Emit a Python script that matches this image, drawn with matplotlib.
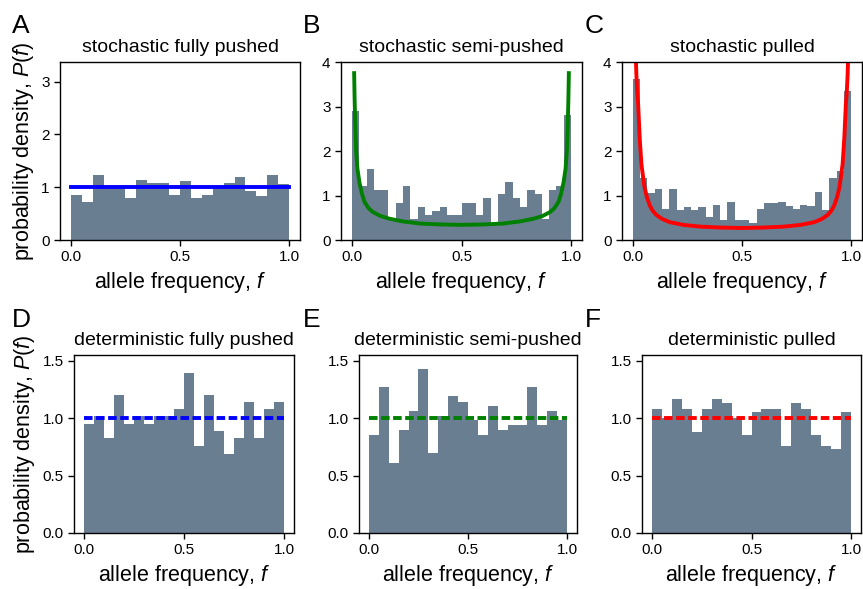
"""
Distribuzioni delle frequenze alleliche: istogrammi e curve teoriche
per fronti stocastici e deterministici (pushed, semi-pushed, pulled).
"""

import numpy as np
import matplotlib
matplotlib.use('Agg')
import matplotlib.pyplot as plt

plt.rcParams['font.family'] = ['Liberation Sans', 'DejaVu Sans']
plt.rcParams['mathtext.fontset'] = 'custom'
plt.rcParams['mathtext.rm'] = 'Liberation Sans'
plt.rcParams['mathtext.it'] = 'Liberation Sans:italic'

# ==================== DATI ====================

titles = [
    'stochastic fully pushed', 'stochastic semi-pushed', 'stochastic pulled',
    'deterministic fully pushed', 'deterministic semi-pushed', 'deterministic pulled',
]
letters = ['A', 'B', 'C', 'D', 'E', 'F']

# altezze degli istogrammi (densita' di probabilita')
hist_a = [0.85, 0.72, 1.23, 0.98, 0.98, 0.80, 1.14, 1.08, 1.08, 0.85,
          1.12, 0.80, 0.85, 0.98, 1.08, 1.20, 0.93, 0.84, 1.23, 1.06]
hist_b = [2.89, 1.22, 1.60, 1.13, 1.13, 0.50, 0.83, 1.22, 0.47, 0.74,
          0.56, 0.65, 0.74, 0.56, 0.56, 0.83, 0.83, 0.56, 0.95, 0.39,
          1.04, 1.31, 0.95, 0.74, 1.13, 1.04, 0.47, 1.13, 1.22, 2.80]
hist_c = [3.62, 1.40, 1.05, 1.15, 0.70, 1.15, 0.68, 0.74, 0.68, 0.74,
          0.52, 0.79, 0.45, 0.86, 0.45, 0.45, 0.38, 0.70, 0.83, 0.83,
          0.86, 0.77, 0.70, 0.79, 0.77, 1.08, 0.68, 1.40, 1.56, 3.34]
hist_d = [0.95, 1.02, 0.83, 1.20, 0.95, 1.02, 0.95, 1.02, 1.02, 1.08,
          1.39, 0.76, 1.20, 0.89, 0.69, 0.83, 1.14, 0.83, 1.08, 1.14]
hist_e = [0.85, 1.27, 0.61, 0.90, 1.06, 1.43, 0.70, 1.02, 1.19, 1.14,
          0.98, 0.85, 1.11, 0.90, 0.94, 0.94, 1.27, 0.94, 1.06, 0.98]
hist_f = [1.08, 1.00, 1.17, 1.08, 0.88, 1.08, 1.17, 1.13, 1.00, 0.85,
          1.05, 1.08, 1.08, 0.76, 1.13, 1.08, 0.85, 0.76, 0.73, 1.05]

# curve teoriche
curve_b_f = [0.010, 0.012, 0.015, 0.019, 0.025, 0.034, 0.045, 0.057, 0.075, 0.095,
             0.13, 0.17, 0.23, 0.31, 0.40, 0.50, 0.60, 0.69, 0.77, 0.83,
             0.87, 0.905, 0.925, 0.943, 0.955, 0.966, 0.975, 0.981, 0.985, 0.988, 0.990]
curve_b_p = [3.75, 3.20, 2.60, 2.00, 1.60, 1.30, 1.05, 0.86, 0.72, 0.63,
             0.54, 0.48, 0.42, 0.37, 0.35, 0.34, 0.35, 0.37, 0.42, 0.48,
             0.54, 0.63, 0.72, 0.86, 1.05, 1.30, 1.60, 2.00, 2.60, 3.20, 3.75]

curve_c_f = [0.008, 0.012, 0.016, 0.020, 0.024, 0.031, 0.039, 0.047, 0.054, 0.065,
             0.077, 0.090, 0.108, 0.135, 0.17, 0.23, 0.31, 0.40, 0.50, 0.60,
             0.69, 0.77, 0.83, 0.865, 0.892, 0.910, 0.923, 0.935, 0.946, 0.953,
             0.961, 0.969, 0.976, 0.980, 0.984, 0.988, 0.992]
curve_c_p = [5.20, 4.30, 3.70, 3.30, 3.05, 2.30, 1.70, 1.40, 1.17, 0.95,
             0.78, 0.66, 0.56, 0.47, 0.40, 0.34, 0.30, 0.28, 0.27, 0.28,
             0.30, 0.34, 0.40, 0.47, 0.56, 0.66, 0.78, 0.95, 1.17, 1.40,
             1.70, 2.30, 3.05, 3.30, 3.70, 4.30, 5.20]

# ==================== FIGURA ====================

W, H = 863, 589
fig = plt.figure(figsize=(W / 100, H / 100), dpi=100)


def px_axes(left, right, top, bottom):
    # posizione degli assi in pixel -> coordinate della figura
    return fig.add_axes([left / W, 1 - bottom / H, (right - left) / W, (bottom - top) / H])


axes = [
    px_axes(60, 300, 62, 240),
    px_axes(341, 582, 62, 240),
    px_axes(622, 862, 62, 240),
    px_axes(74, 294, 355, 533),
    px_axes(359, 577, 355, 533),
    px_axes(642, 861, 355, 533),
]

hists = [hist_a, hist_b, hist_c, hist_d, hist_e, hist_f]
bar_color = '#6a7e92'

for ax, h, title in zip(axes, hists, titles):
    edges = np.linspace(0, 1, len(h) + 1)
    ax.stairs(h, edges, fill=True, color=bar_color, linewidth=0)
    ax.set_title(title, fontsize=14, pad=7)
    ax.set_xlim(-0.05, 1.05)
    ax.set_xticks([0, 0.5, 1.0])
    ax.set_xticklabels(['0.0', '0.5', '1.0'])
    ax.set_xlabel('allele frequency, $f$', fontsize=15.5)
    ax.tick_params(labelsize=11, length=4, width=1)
    for sp in ax.spines.values():
        sp.set_linewidth(1)

# curve
lw = 2.8
axes[0].plot([0, 1], [1, 1], color='blue', lw=lw)
axes[1].plot(curve_b_f, curve_b_p, color='green', lw=lw)
axes[2].plot(curve_c_f, curve_c_p, color='red', lw=lw)
dash = (0, (2.2, 0.9))
axes[3].plot([0, 1], [1, 1], color='blue', lw=lw, ls=dash)
axes[4].plot([0, 1], [1, 1], color='green', lw=lw, ls=dash)
axes[5].plot([0, 1], [1, 1], color='red', lw=lw, ls=dash)

# assi y
axes[0].set_ylim(0, 3.37)
axes[0].set_yticks([0, 1, 2, 3])
for ax in axes[1:3]:
    ax.set_ylim(0, 4)
    ax.set_yticks([0, 1, 2, 3, 4])
for ax in axes[3:]:
    ax.set_ylim(0, 1.55)
    ax.set_yticks([0, 0.5, 1.0, 1.5])
    ax.set_yticklabels(['0.0', '0.5', '1.0', '1.5'])

for ax in (axes[0], axes[3]):
    ax.set_ylabel('probability density, $P(f)$', fontsize=15.5)

# lettere dei pannelli
letter_pos = [(12, 33), (303, 33), (585, 33), (12, 327), (303, 327), (585, 327)]
for (x, y), letter in zip(letter_pos, letters):
    fig.text(x / W, 1 - y / H, letter, fontsize=19, va='baseline', ha='left')

fig.savefig('out.png', dpi=100)
